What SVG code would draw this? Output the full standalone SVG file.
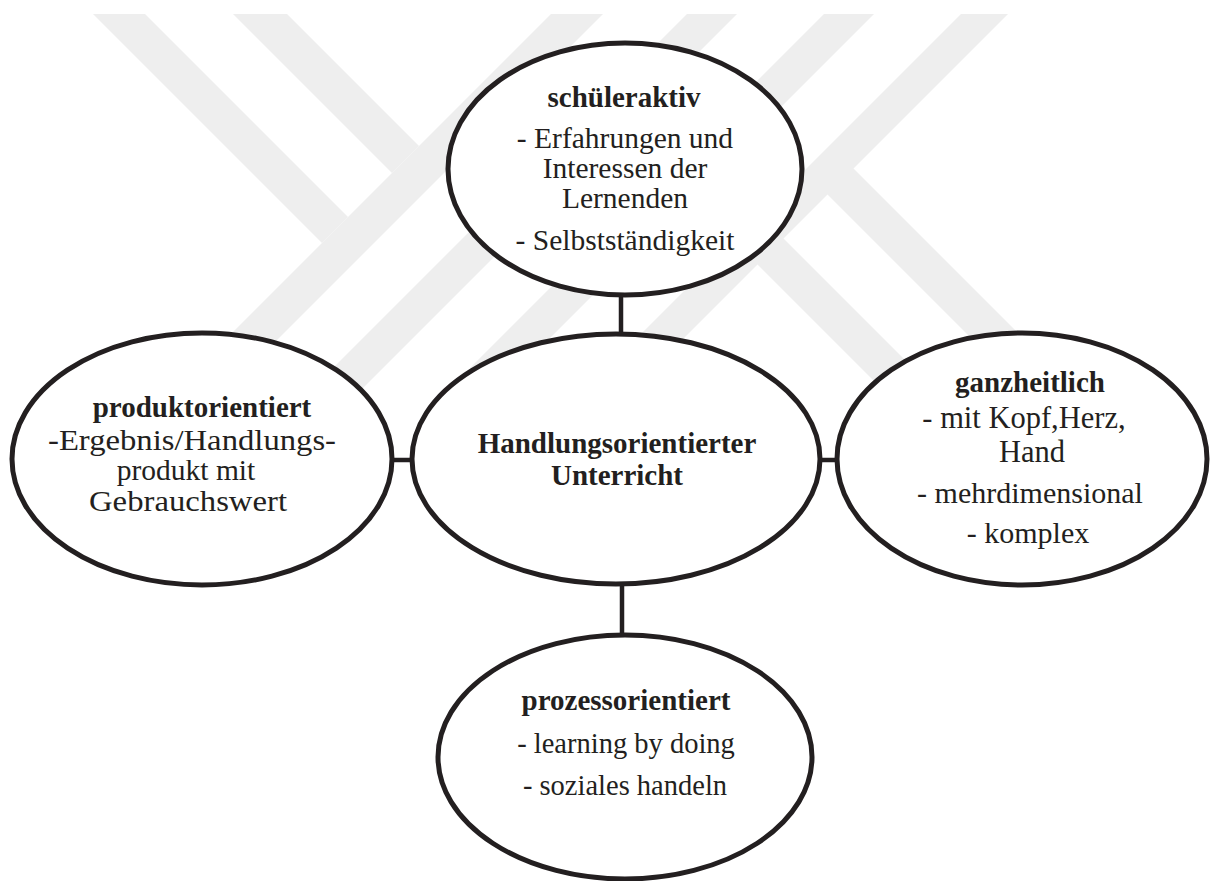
<svg xmlns="http://www.w3.org/2000/svg" width="1211" height="881" viewBox="0 0 1211 881">
<style>
.wm{fill:#eeeeee}
.node ellipse{fill:#ffffff;stroke:#231f20;stroke-width:5}
#connectors line{stroke:#231f20;stroke-width:4.5}
text{font-family:"Liberation Serif","Times New Roman",serif;fill:#231f20;text-anchor:middle}
.t{font-weight:bold;font-size:29px}
</style>
<rect x="0" y="0" width="1211" height="881" fill="#ffffff"/>
<g id="watermark">
<polygon class="wm" points="93,14 145,14 348,217 322,243"/>
<polygon class="wm" points="233,14 287,14 419,146 392,173"/>
<polygon class="wm" points="551,14 603,14 177,440 125,440"/>
<polygon class="wm" points="687,14 737,14 331,420 281,420"/>
<polygon class="wm" points="824,14 874,14 488,400 438,400"/>
<polygon class="wm" points="961,14 1008,14 602,420 555,420"/>
<polygon class="wm" points="853,168 827,194 1103,470 1155,470"/>
<polygon class="wm" points="783,238 757,264 963,470 1015,470"/>
</g>
<g id="connectors">
<line x1="621" y1="294" x2="621" y2="336"/>
<line x1="390" y1="460" x2="414" y2="460"/>
<line x1="818" y1="460" x2="840" y2="460"/>
<line x1="622" y1="582" x2="622" y2="637"/>
</g>
<g id="n-top" class="node">
<ellipse cx="625" cy="169" rx="177" ry="126"/>
<text class="t" x="624" y="107">schüleraktiv</text>
<text x="625" y="148" font-size="29.5">- Erfahrungen und</text>
<text x="625" y="178" font-size="29.5">Interessen der</text>
<text x="625" y="208" font-size="29.5">Lernenden</text>
<text x="625" y="250" font-size="29.5">- Selbstständigkeit</text>
</g>
<g id="n-center" class="node">
<ellipse cx="616" cy="459" rx="204" ry="125"/>
<text class="t" x="617" y="453">Handlungsorientierter</text>
<text class="t" x="617" y="485">Unterricht</text>
</g>
<g id="n-left" class="node">
<ellipse cx="202" cy="459" rx="190" ry="126"/>
<text class="t" x="202" y="417">produktorientiert</text>
<text x="192" y="450" font-size="29.5" textLength="288" lengthAdjust="spacingAndGlyphs">-Ergebnis/Handlungs-</text>
<text x="186" y="480" font-size="29.5">produkt mit</text>
<text x="188" y="511" font-size="29.5" textLength="198" lengthAdjust="spacingAndGlyphs">Gebrauchswert</text>
</g>
<g id="n-right" class="node">
<ellipse cx="1022" cy="459" rx="185" ry="126"/>
<text class="t" x="1030" y="392">ganzheitlich</text>
<text x="1024" y="428" font-size="30.5">- mit Kopf,Herz,</text>
<text x="1032" y="462" font-size="30.5">Hand</text>
<text x="1030" y="503" font-size="30">- mehrdimensional</text>
<text x="1028" y="543" font-size="30">- komplex</text>
</g>
<g id="n-bottom" class="node">
<ellipse cx="625" cy="757" rx="187" ry="122"/>
<text class="t" x="626" y="710">prozessorientiert</text>
<text x="626" y="753" font-size="28.5">- learning by doing</text>
<text x="625" y="795" font-size="28.5">- soziales handeln</text>
</g>
</svg>
